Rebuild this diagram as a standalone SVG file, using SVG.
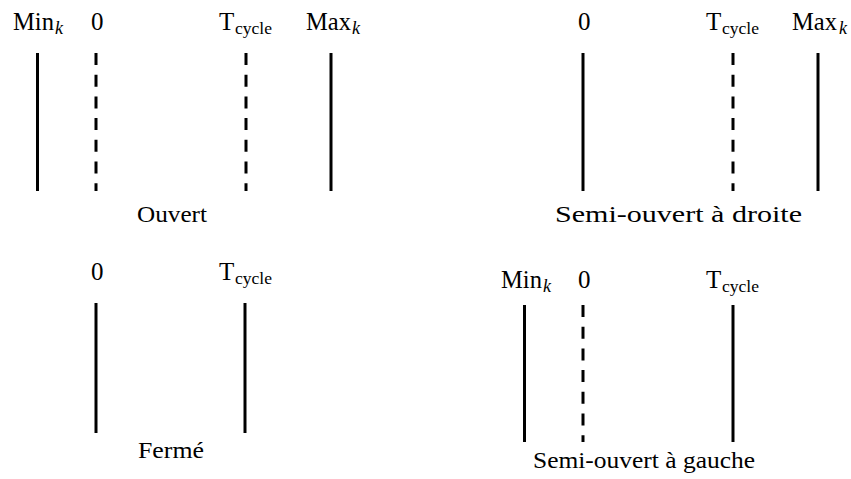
<svg xmlns="http://www.w3.org/2000/svg" width="851" height="479" viewBox="0 0 851 479" font-family="'Liberation Serif', 'DejaVu Serif', serif">
<style>
text{font-family:"Liberation Serif","DejaVu Serif",serif;fill:#000}
.lab{font-size:25px}
.sub{font-size:17px}
.k{font-size:18px;font-style:italic}
.cap{font-size:24px}
.solid{stroke:#000;stroke-width:3;fill:none}
.dash{stroke:#000;stroke-width:3;fill:none;stroke-dasharray:12 9.7}
</style>
<rect width="851" height="479" fill="#fff"/>

<g id="ouvert">
  <g id="o-min"><text class="lab" x="13" y="30" textLength="41" lengthAdjust="spacingAndGlyphs">Min</text><text class="k" x="55" y="34">k</text><line class="solid" x1="37.5" y1="53" x2="37.5" y2="191"/></g>
  <g id="o-zero"><text class="lab" x="91" y="30">0</text><line class="dash" x1="96" y1="53" x2="96" y2="191"/></g>
  <g id="o-tcycle"><text class="lab" x="219" y="30">T</text><text class="sub" x="235" y="34" textLength="37" lengthAdjust="spacingAndGlyphs">cycle</text><line class="dash" x1="246" y1="53" x2="246" y2="191"/></g>
  <g id="o-max"><text class="lab" x="306" y="30" textLength="45" lengthAdjust="spacingAndGlyphs">Max</text><text class="k" x="352" y="34">k</text><line class="solid" x1="331" y1="53" x2="331" y2="191"/></g>
  <text class="cap" x="137" y="222" textLength="70" lengthAdjust="spacingAndGlyphs">Ouvert</text>
</g>

<g id="semi-droite">
  <g id="d-zero"><text class="lab" x="578" y="30">0</text><line class="solid" x1="583" y1="53" x2="583" y2="191"/></g>
  <g id="d-tcycle"><text class="lab" x="706" y="30">T</text><text class="sub" x="722" y="34" textLength="37" lengthAdjust="spacingAndGlyphs">cycle</text><line class="dash" x1="733" y1="53" x2="733" y2="191"/></g>
  <g id="d-max"><text class="lab" x="792" y="30" textLength="45" lengthAdjust="spacingAndGlyphs">Max</text><text class="k" x="839" y="34">k</text><line class="solid" x1="818" y1="53" x2="818" y2="191"/></g>
  <text class="cap" x="555" y="222" textLength="247" lengthAdjust="spacingAndGlyphs">Semi-ouvert à droite</text>
</g>

<g id="ferme">
  <g id="f-zero"><text class="lab" x="91" y="280">0</text><line class="solid" x1="96" y1="303" x2="96" y2="433"/></g>
  <g id="f-tcycle"><text class="lab" x="219" y="280">T</text><text class="sub" x="235" y="284" textLength="37" lengthAdjust="spacingAndGlyphs">cycle</text><line class="solid" x1="245" y1="303" x2="245" y2="433"/></g>
  <text class="cap" x="138" y="458" textLength="66" lengthAdjust="spacingAndGlyphs">Fermé</text>
</g>

<g id="semi-gauche">
  <g id="g-min"><text class="lab" x="501" y="288" textLength="41" lengthAdjust="spacingAndGlyphs">Min</text><text class="k" x="543" y="292">k</text><line class="solid" x1="524.5" y1="305" x2="524.5" y2="442"/></g>
  <g id="g-zero"><text class="lab" x="578" y="288">0</text><line class="dash" x1="583" y1="305" x2="583" y2="442"/></g>
  <g id="g-tcycle"><text class="lab" x="706" y="288">T</text><text class="sub" x="722" y="292" textLength="37" lengthAdjust="spacingAndGlyphs">cycle</text><line class="solid" x1="733" y1="305" x2="733" y2="442"/></g>
  <text class="cap" x="533" y="468" textLength="222" lengthAdjust="spacingAndGlyphs">Semi-ouvert à gauche</text>
</g>
</svg>
